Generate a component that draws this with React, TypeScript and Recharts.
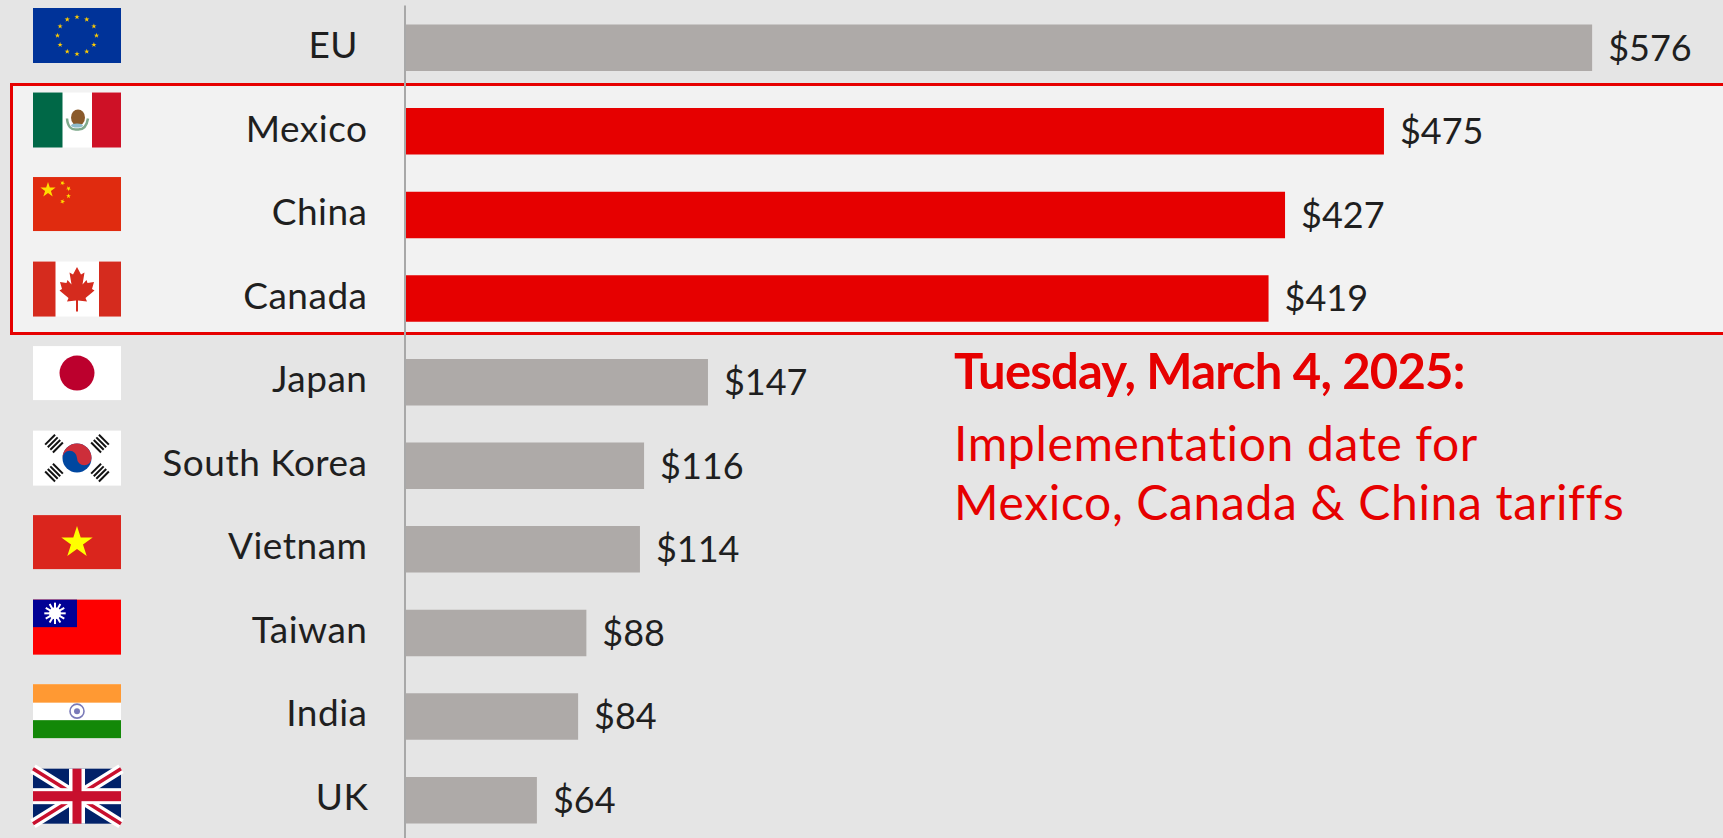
import { BarChart, Bar, Cell, XAxis, YAxis, LabelList } from 'recharts';

const COUNTRIES = ['EU', 'Mexico', 'China', 'Canada', 'Japan', 'South Korea', 'Vietnam', 'Taiwan', 'India', 'UK'];
const VALUES = [576, 475, 427, 419, 147, 116, 114, 88, 84, 64];
const HIGHLIGHTED = ['Mexico', 'China', 'Canada'];

const chartData = COUNTRIES.map((name, i) => ({ name, value: VALUES[i] }));

const FONT = 'Lato, sans-serif';
const RED = '#e60000';
const GREY = '#aeaaa8';
const INK = '#1f1f1f';

const star = (cx: number, cy: number, r: number, rot = 0) => {
  const pts: string[] = [];
  for (let i = 0; i < 10; i++) {
    const rad = i % 2 === 0 ? r : r * 0.382;
    const a = ((-90 + rot + i * 36) * Math.PI) / 180;
    pts.push(`${(cx + rad * Math.cos(a)).toFixed(2)},${(cy + rad * Math.sin(a)).toFixed(2)}`);
  }
  return pts.join(' ');
};

const LEAF_HALF = [
  [0, 5.5], [4, 13], [7.5, 11], [5.5, 23], [9.5, 18.5], [10.5, 21.5], [17, 20.5],
  [15, 27.5], [17.5, 29], [8.5, 36.5], [10, 40], [1, 39], [1, 50],
];
const leaf = [
  ...LEAF_HALF.map(([x, y]) => `${44 + x},${y}`),
  ...[...LEAF_HALF].reverse().map(([x, y]) => `${44 - x},${y}`),
].join(' ');

function Flag({ name }: { name: string }) {
  switch (name) {
    case 'EU':
      return (
        <g>
          <rect width={88} height={55} fill="#003399" />
          {Array.from({ length: 12 }).map((_, i) => {
            const a = (i * 30 * Math.PI) / 180;
            return <polygon key={i} points={star(44 + 19.5 * Math.sin(a), 27.5 - 18.5 * Math.cos(a), 2.8)} fill="#ffcc00" />;
          })}
        </g>
      );
    case 'Mexico':
      return (
        <g>
          <rect width={88} height={55} fill="#fff" />
          <rect width={29.5} height={55} fill="#006847" />
          <rect x={59} width={29} height={55} fill="#ce1126" />
          <ellipse cx={45} cy={25} rx={7} ry={8} fill="#8a5a2b" />
          <path d="M34 26 Q35 38 44 37 Q53 38 55 26" fill="none" stroke="#7fa98c" strokeWidth={2.5} />
          <ellipse cx={44} cy={33} rx={6} ry={2} fill="#8fbccc" />
        </g>
      );
    case 'China':
      return (
        <g>
          <rect width={88} height={54} fill="#e02b0f" />
          <polygon points={star(15, 13, 8)} fill="#ffde00" />
          <polygon points={star(29.5, 6, 2.6, 20)} fill="#ffde00" />
          <polygon points={star(35.5, 11.5, 2.6, 40)} fill="#ffde00" />
          <polygon points={star(35.5, 19, 2.6, 0)} fill="#ffde00" />
          <polygon points={star(29.5, 24.5, 2.6, 20)} fill="#ffde00" />
        </g>
      );
    case 'Canada':
      return (
        <g>
          <rect width={88} height={55} fill="#fff" />
          <rect width={22.5} height={55} fill="#d52b1e" />
          <rect x={66} width={22} height={55} fill="#d52b1e" />
          <polygon points={leaf} fill="#d52b1e" />
        </g>
      );
    case 'Japan':
      return (
        <g>
          <rect width={88} height={54} fill="#fff" />
          <circle cx={44} cy={27} r={17.5} fill="#bc002d" />
        </g>
      );
    case 'South Korea':
      return (
        <g>
          <rect width={88} height={55} fill="#fff" />
          <circle cx={44} cy={27.5} r={14.5} fill="#0047a0" />
          <path d="M29.5 27.5 A14.5 14.5 0 0 1 58.5 27.5 A7.25 7.25 0 0 1 44 27.5 A7.25 7.25 0 0 0 29.5 27.5 Z" fill="#cd2e3a" />
          {[[21, 13, 45], [67, 13, -45], [21, 42, -45], [67, 42, 45]].map(([x, y, r], i) => (
            <g key={i} transform={`translate(${x} ${y}) rotate(${r})`}>
              {[-5.5, -1.8, 1.8, 5.5].map((d) => (
                <rect key={d} x={d - 1} y={-7} width={2} height={14} fill="#111" />
              ))}
            </g>
          ))}
        </g>
      );
    case 'Vietnam':
      return (
        <g>
          <rect width={88} height={54} fill="#da251d" />
          <polygon points={star(44, 27.5, 16.5)} fill="#ffff00" />
        </g>
      );
    case 'Taiwan':
      return (
        <g>
          <rect width={88} height={55} fill="#fe0000" />
          <rect width={44} height={27.5} fill="#000095" />
          {Array.from({ length: 12 }).map((_, i) => (
            <rect key={i} x={21} y={3} width={2} height={6} fill="#fff" transform={`rotate(${i * 30} 22 13.7)`} />
          ))}
          <circle cx={22} cy={13.7} r={6} fill="#fff" />
        </g>
      );
    case 'India':
      return (
        <g>
          <rect width={88} height={54} fill="#fff" />
          <rect width={88} height={18.5} fill="#ff9933" />
          <rect y={36} width={88} height={18} fill="#138808" />
          <circle cx={44} cy={27} r={7} fill="none" stroke="#7a7ab8" strokeWidth={1.6} />
          <circle cx={44} cy={27} r={3} fill="#7a7ab8" />
        </g>
      );
    case 'UK':
      return (
        <g>
          <rect width={88} height={55} fill="#012169" />
          <path d="M0 0 L88 55 M88 0 L0 55" stroke="#fff" strokeWidth={10} />
          <path d="M0 0 L88 55 M88 0 L0 55" stroke="#c8102e" strokeWidth={3.5} />
          <rect x={36} width={16} height={55} fill="#fff" />
          <rect y={19.5} width={88} height={16} fill="#fff" />
          <rect x={39.5} width={9} height={55} fill="#c8102e" />
          <rect y={22.5} width={88} height={10} fill="#c8102e" />
        </g>
      );
    default:
      return null;
  }
}

function CountryTick({ y, payload, index }: any) {
  const name = payload.value as string;
  const labelRight = name === 'EU' ? 358 : name === 'UK' ? 368.5 : 367.5;
  return (
    <g>
      <g transform={`translate(33 ${y - 39.3 + index * 0.92})`}>
        <Flag name={name} />
      </g>
      <text
        x={labelRight}
        y={y + 10.7 - index * 0.1}
        textAnchor="end"
        fontFamily={FONT}
        fontSize={37}
        letterSpacing={0.5}
        fill={INK}
      >
        {name}
      </text>
    </g>
  );
}

export default function App() {
  return (
    <div style={{ position: 'fixed', left: 0, top: 0, width: 1723, height: 838, overflow: 'hidden', background: '#e5e5e5' }}>
      {/* tariff group box sits behind the chart so the axis line runs over it */}
      <div
        style={{
          position: 'absolute',
          left: 10,
          top: 82.5,
          width: 1740,
          height: 252,
          boxSizing: 'border-box',
          background: '#f2f2f2',
          border: `3px solid ${RED}`,
        }}
      />
      <div style={{ position: 'absolute', left: 0, top: 0 }}>
        <BarChart
          width={1723}
          height={842}
          layout="vertical"
          data={chartData}
          margin={{ top: 5.5, right: 0, bottom: 0.5, left: 0 }}
        >
          <XAxis type="number" hide domain={[0, 639.5]} />
          <YAxis
            type="category"
            dataKey="name"
            width={405}
            interval={0}
            tickLine={false}
            axisLine={{ stroke: '#a8a8a8', strokeWidth: 2 }}
            tick={<CountryTick />}
          />
          <Bar dataKey="value" barSize={46.5} isAnimationActive={false}>
            {chartData.map((d) => (
              <Cell key={d.name} fill={HIGHLIGHTED.includes(d.name) ? RED : GREY} />
            ))}
            <LabelList
              dataKey="value"
              position="right"
              offset={16}
              formatter={(v: number) => `$${v}`}
              style={{ fontFamily: FONT, fontSize: 36, fill: INK }}
            />
          </Bar>
        </BarChart>
      </div>
      <div
        style={{
          position: 'absolute',
          left: 954,
          top: 342,
          color: RED,
          fontFamily: FONT,
          whiteSpace: 'nowrap',
          fontVariantLigatures: 'none',
        }}
      >
        <div style={{ fontSize: 49, fontWeight: 700, lineHeight: '56px', letterSpacing: -0.8 }}>Tuesday, March 4, 2025:</div>
        <div style={{ fontSize: 48, lineHeight: '57px', marginTop: 16, letterSpacing: 0.65 }}>Implementation date for</div>
        <div style={{ fontSize: 48, lineHeight: '57px', marginTop: 2, letterSpacing: 0.65 }}>Mexico, Canada &amp; China tariffs</div>
      </div>
    </div>
  );
}
